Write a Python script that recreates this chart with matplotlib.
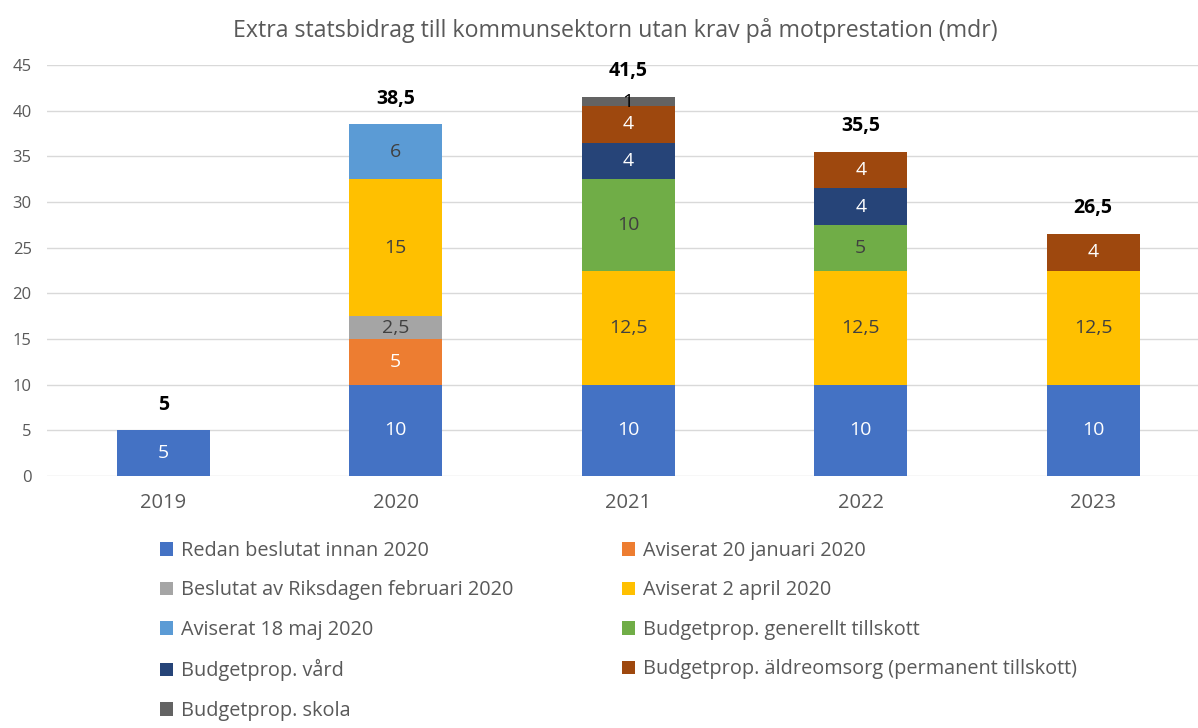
import numpy as np
import matplotlib.pyplot as plt

plt.rcParams['font.family'] = ['Open Sans', 'DejaVu Sans']

years = ['2019', '2020', '2021', '2022', '2023']

redan = [5, 10, 10, 10, 10]
jan20 = [0, 5, 0, 0, 0]
riksdag_feb = [0, 2.5, 0, 0, 0]
april2 = [0, 15, 12.5, 12.5, 12.5]
maj18 = [0, 6, 0, 0, 0]
bp_generellt = [0, 0, 10, 5, 0]
bp_vard = [0, 0, 4, 4, 0]
bp_aldre = [0, 0, 4, 4, 4]
bp_skola = [0, 0, 1, 0, 0]

series = [
    ('Redan beslutat innan 2020', redan, '#4472C4', 'white'),
    ('Aviserat 20 januari 2020', jan20, '#ED7D31', 'white'),
    ('Beslutat av Riksdagen februari 2020', riksdag_feb, '#A5A5A5', '#404040'),
    ('Aviserat 2 april 2020', april2, '#FFC000', '#404040'),
    ('Aviserat 18 maj 2020', maj18, '#5B9BD5', '#404040'),
    ('Budgetprop. generellt tillskott', bp_generellt, '#70AD47', '#404040'),
    ('Budgetprop. vård', bp_vard, '#264478', 'white'),
    ('Budgetprop. äldreomsorg (permanent tillskott)', bp_aldre, '#9E480E', 'white'),
    ('Budgetprop. skola', bp_skola, '#636363', 'black'),
]

def fmt(v):
    return ('%g' % v).replace('.', ',')

fig = plt.figure(figsize=(11.98, 7.28), dpi=100)
ax = fig.add_axes([47 / 1198, 1 - 476 / 728, 1 - 47 / 1198, (476 - 65) / 728])

x = np.arange(len(years))
bottom = np.zeros(len(years))
handles = []
for name, vals, color, tcolor in series:
    vals = np.array(vals, dtype=float)
    b = ax.bar(x, vals, 0.4, bottom=bottom, color=color, label=name, zorder=2)
    handles.append(b)
    for xi, v, bt in zip(x, vals, bottom):
        if v > 0:
            ax.text(xi, bt + v / 2, fmt(v), ha='center', va='center',
                    color=tcolor, fontsize=14, zorder=3)
    bottom += vals

for xi, tot in zip(x, bottom):
    ax.text(xi, tot + 2.8, fmt(tot), ha='center', va='center',
            fontsize=14, fontweight='bold', color='black')

ax.set_ylim(0, 45)
ax.set_xlim(-0.5, -0.5 + (1198 - 47) / 232.5)
ax.set_yticks(range(0, 46, 5))
ax.set_xticks(x)
ax.set_xticklabels(years)
ax.yaxis.grid(True, color='#D9D9D9', linewidth=1, zorder=0)
ax.set_axisbelow(True)
for s in ax.spines.values():
    s.set_visible(False)
ax.tick_params(axis='both', length=0, colors='#595959')
ax.tick_params(axis='x', labelsize=14.5, pad=12)
ax.tick_params(axis='y', labelsize=12, pad=11)

ax.set_title('Extra statsbidrag till kommunsektorn utan krav på motprestation (mdr)',
             fontsize=16.7, color='#595959', pad=20, x=(615 - 47) / (1198 - 47))

order = [0, 2, 4, 6, 8, 1, 3, 5, 7]
fig.legend([handles[i] for i in order], [series[i][0] for i in order],
           loc='upper left', bbox_to_anchor=(152 / 1198, 1 - 533 / 728),
           ncol=2, frameon=False, fontsize=14.3, labelcolor='#595959',
           handlelength=0.65, handleheight=0.65, handletextpad=0.4,
           labelspacing=0.98, columnspacing=5.5, borderaxespad=0)

plt.savefig('out.png', dpi=100)
